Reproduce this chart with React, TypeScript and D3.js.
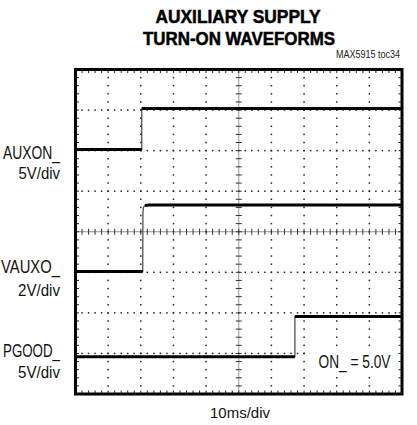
import React from "react";
import * as d3 from "d3";

// ---- data (time in ms, level in screen divisions from bottom) ----
const auxonTime = [0, 20.3, 20.3, 100];
const auxonLevel = [6.03, 6.03, 7.04, 7.04];
const vauxoTime = [0, 20.6, 20.65, 20.8, 21.3, 22.5, 100];
const vauxoLevel = [3.02, 3.02, 4.45, 4.6, 4.65, 4.66, 4.66];
const pgoodTime = [0, 67.2, 67.2, 100];
const pgoodLevel = [0.92, 0.92, 1.91, 1.91];

const channelNames = ["AUXON_", "VAUXO_", "PGOOD_"];
const channelScales = ["5V/div", "2V/div", "5V/div"];
const titleLines = ["AUXILIARY SUPPLY", "TURN-ON WAVEFORMS"];
const xDivisions = 10;
const yDivisions = 8;
const timeBase = "10ms/div";
const annotation = "ON_ = 5.0V";
const figureId = "MAX5915 toc34";

const W = 417;
const H = 425;
const left = 75.5;
const right = 402;
const top = 69.5;
const bottom = 394;

const font = "'Liberation Sans', Arial, Helvetica, sans-serif";

export default function App() {
  const x = d3.scaleLinear().domain([0, xDivisions * 10]).range([left, right]);
  const y = d3.scaleLinear().domain([0, yDivisions]).range([bottom, top]);

  const xMinor = d3.range(0, xDivisions * 5 + 1).map((i) => i * 2); // ms
  const yMinor = d3.range(0, yDivisions * 5 + 1).map((i) => i / 5);
  const xMajor = d3.range(1, xDivisions).map((i) => i * 10);
  const yMajor = d3.range(1, yDivisions);
  const xc = x(50);
  const yc = y(4);

  const dots: JSX.Element[] = [];
  yMajor.forEach((d) => {
    if (d === 4) return;
    xMinor.forEach((t, i) => {
      if (i === 0 || i === xMinor.length - 1) return;
      dots.push(<rect key={`h${d}-${i}`} x={x(t) - 0.75} y={y(d) - 0.75} width={1.5} height={1.5} fill="#222" />);
    });
  });
  xMajor.forEach((t) => {
    if (t === 50) return;
    yMinor.forEach((d, i) => {
      if (i === 0 || i === yMinor.length - 1) return;
      dots.push(<rect key={`v${t}-${i}`} x={x(t) - 0.75} y={y(d) - 0.75} width={1.5} height={1.5} fill="#222" />);
    });
  });

  const ticks: JSX.Element[] = [];
  xMinor.forEach((t, i) => {
    ticks.push(<line key={`cx${i}`} x1={x(t)} x2={x(t)} y1={yc - 3} y2={yc + 3} stroke="#333" strokeWidth={1} />);
    ticks.push(<line key={`tb${i}`} x1={x(t)} x2={x(t)} y1={top} y2={top + 3.5} stroke="#222" strokeWidth={1} />);
    ticks.push(<line key={`bb${i}`} x1={x(t)} x2={x(t)} y1={bottom} y2={bottom - 3.5} stroke="#222" strokeWidth={1} />);
  });
  yMinor.forEach((d, i) => {
    ticks.push(<line key={`cy${i}`} x1={xc - 3} x2={xc + 3} y1={y(d)} y2={y(d)} stroke="#333" strokeWidth={1} />);
    ticks.push(<line key={`lb${i}`} x1={left} x2={left + 3.5} y1={y(d)} y2={y(d)} stroke="#222" strokeWidth={1} />);
    ticks.push(<line key={`rb${i}`} x1={right} x2={right - 3.5} y1={y(d)} y2={y(d)} stroke="#222" strokeWidth={1} />);
  });

  const traces = [
    { t: auxonTime, v: auxonLevel },
    { t: vauxoTime, v: vauxoLevel },
    { t: pgoodTime, v: pgoodLevel },
  ];
  const traceEls: JSX.Element[] = [];
  traces.forEach((tr, k) => {
    const pts = tr.t.map((t, i) => [x(t), y(tr.v[i])] as [number, number]);
    const line = d3.line();
    traceEls.push(<path key={`thin${k}`} d={line(pts) || ""} fill="none" stroke="#444" strokeWidth={1.2} />);
    for (let i = 0; i < pts.length - 1; i++) {
      const flat = Math.abs(pts[i][1] - pts[i + 1][1]) < 1.5;
      if (flat) {
        traceEls.push(
          <path key={`thick${k}-${i}`} d={line([pts[i], pts[i + 1]]) || ""} fill="none" stroke="#000" strokeWidth={3} />
        );
      }
    }
  });

  const labelY = [
    [159, 179],
    [273.3, 295.7],
    [356.7, 378.3],
  ];
  const nameWidths = [57, 59, 57];
  const scaleWidths = [41.5, 42, 42];

  return (
    <svg width={W} height={H} style={{ position: "absolute", left: 0, top: 0, background: "#fff" }}>
      <rect x={0} y={0} width={W} height={H} fill="#fff" />
      <text x={238} y={23.3} textAnchor="middle" fontFamily={font} fontWeight="bold" fontSize={17.7} textLength={165} lengthAdjust="spacingAndGlyphs" stroke="#000" strokeWidth={0.5}>
        {titleLines[0]}
      </text>
      <text x={239} y={44.5} textAnchor="middle" fontFamily={font} fontWeight="bold" fontSize={17.7} textLength={192} lengthAdjust="spacingAndGlyphs" stroke="#000" strokeWidth={0.5}>
        {titleLines[1]}
      </text>
      <text x={400} y={57.5} textAnchor="end" fontFamily={font} fontSize={10.5} fill="#222" textLength={64} lengthAdjust="spacingAndGlyphs">
        {figureId}
      </text>

      <line x1={left} x2={right} y1={yc} y2={yc} stroke="#777" strokeWidth={0.8} />
      <line x1={xc} x2={xc} y1={top} y2={bottom} stroke="#777" strokeWidth={0.8} />
      {dots}
      {ticks}

      <rect x={310} y={347} width={86} height={27} fill="#fff" />
      <text x={390.5} y={368} textAnchor="end" fontFamily={font} fontSize={18} fill="#111" textLength={72} lengthAdjust="spacingAndGlyphs">
        {annotation}
      </text>

      {traceEls}
      <rect x={left} y={top} width={right - left} height={bottom - top} fill="none" stroke="#000" strokeWidth={3} />

      {channelNames.map((n, i) => (
        <g key={n}>
          <text x={60} y={labelY[i][0]} textAnchor="end" fontFamily={font} fontSize={17.5} fill="#111" textLength={nameWidths[i]} lengthAdjust="spacingAndGlyphs">
            {n}
          </text>
          <text x={60} y={labelY[i][1]} textAnchor="end" fontFamily={font} fontSize={17} fill="#111" textLength={scaleWidths[i]} lengthAdjust="spacingAndGlyphs">
            {channelScales[i]}
          </text>
        </g>
      ))}

      <text x={240} y={418.3} textAnchor="middle" fontFamily={font} fontSize={14.5} fill="#111" textLength={60} lengthAdjust="spacingAndGlyphs">
        {timeBase}
      </text>
    </svg>
  );
}
